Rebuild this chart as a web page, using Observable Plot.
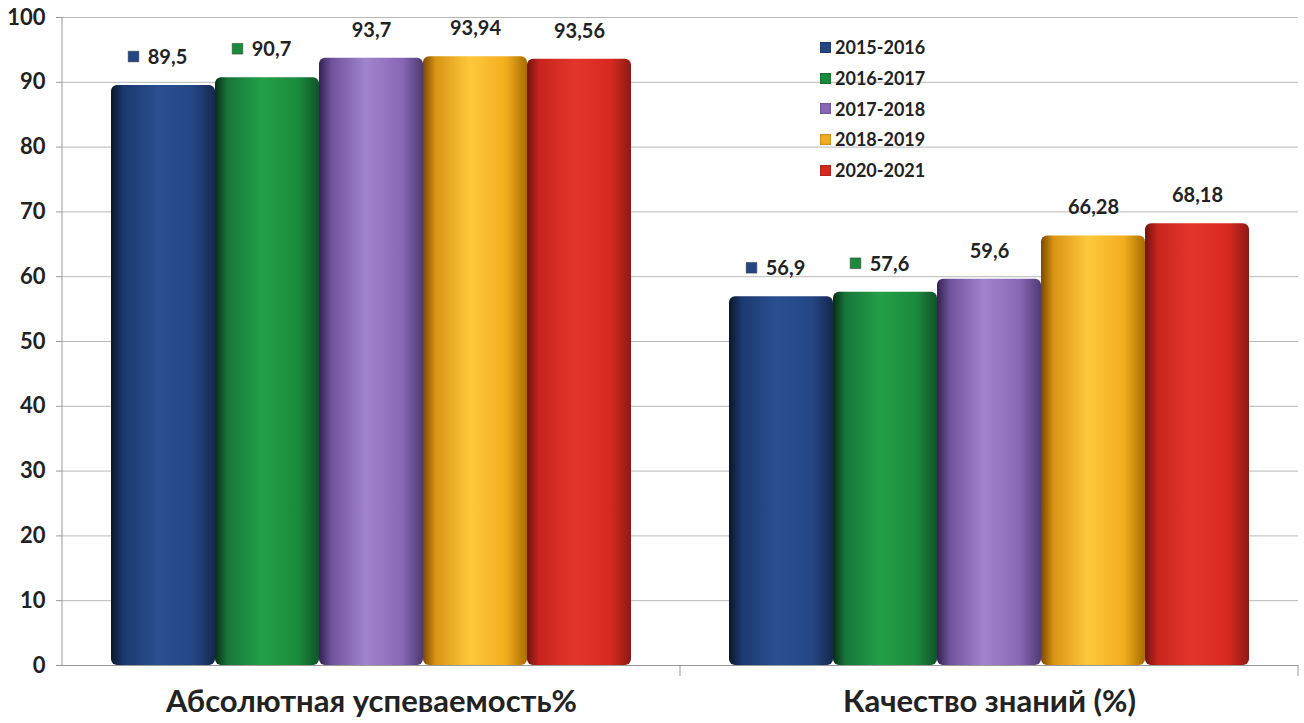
<!DOCTYPE html>
<html><head><meta charset="utf-8">
<script src="https://cdn.jsdelivr.net/npm/d3@7"></script>
<script src="https://cdn.jsdelivr.net/npm/@observablehq/plot@0.6"></script>
<style>
body{margin:0;background:#fff;font-family:Lato,"Open Sans",sans-serif;}
#wrap{position:relative;width:1304px;height:723px;overflow:hidden}
#legend{position:absolute;left:820px;top:32px;font:bold 18px Lato,"Open Sans",sans-serif;color:#222}
.row{display:flex;align-items:center;height:30.7px}
.sw{width:11px;height:11px;margin-right:4px;box-shadow:inset 0 0 2px rgba(0,0,0,.5)}
#chart svg{font-family:Lato,"Open Sans",sans-serif;}
[aria-label="y-axis tick label"] text{font-size:22px;font-weight:bold;fill:#222}
[aria-label="fx-axis tick label"] text{font-size:31px;font-weight:bold;fill:#222}
</style></head><body><div id="wrap"><div id="chart"></div><div id="legend"></div></div>
<script>
const categories = ["Абсолютная успеваемость%", "Качество знаний (%)"];
const series = ["2015-2016", "2016-2017", "2017-2018", "2018-2019", "2020-2021"];
const absoluteValues = [89.5, 90.7, 93.7, 93.94, 93.56];
const qualityValues = [56.9, 57.6, 59.6, 66.28, 68.18];
const valueLabels = [["89,5", "90,7", "93,7", "93,94", "93,56"], ["56,9", "57,6", "59,6", "66,28", "68,18"]];
const yTicks = [0, 10, 20, 30, 40, 50, 60, 70, 80, 90, 100];
const colors = ["#244684", "#1b8a3c", "#8867b6", "#f2ad1e", "#d8291f"];
const gradStops = [
  ["#0d1628", "#1c3870", "#2a4f90", "#244684", "#16284c"],
  ["#0a2c16", "#17763a", "#22a048", "#1b8a3c", "#10522a"],
  ["#33214f", "#6f529a", "#a084cc", "#8867b6", "#4f3a74"],
  ["#7a4a00", "#d99314", "#ffc83c", "#f2ad1e", "#a86c00"],
  ["#701410", "#c7241c", "#e3362b", "#d8291f", "#8e1a14"]
];

const data = [];
categories.forEach((c, ci) => {
  const vals = ci === 0 ? absoluteValues : qualityValues;
  series.forEach((s, si) => data.push({cat: c, series: s, si, value: vals[si], label: valueLabels[ci][si], color: colors[si]}));
});

const W = 1304, H = 723, mT = 17, mB = 58, mL = 62, mR = 6;
const chart = Plot.plot({
  width: W, height: H,
  marginTop: mT, marginBottom: mB, marginLeft: mL, marginRight: mR,
  fx: {domain: categories, padding: 0, label: null},
  x: {domain: series, paddingInner: 0, paddingOuter: 0.47, axis: null},
  y: {domain: [0, 100], label: null},
  color: {domain: series, range: series.map((s, i) => `url(#cyl${i})`)},
  marks: [
    Plot.gridY(yTicks, {stroke: "#b8b8b8", strokeOpacity: 1, strokeWidth: 1}),
    Plot.axisY(yTicks, {tickSize: 6, tickPadding: 11, stroke: "#999", label: null}),
    Plot.axisFx({anchor: "bottom", tickSize: 0, tickPadding: 24, label: null}),
    Plot.barY(data, {fx: "cat", x: "series", y: "value", fill: "series", rx: 6, inset: 0}),
    Plot.ruleY([0], {stroke: "#999"}),
    Plot.dot(data.filter(d => d.si < 2), {fx: "cat", x: "series", y: "value", symbol: "square", r: 6, fill: "color", stroke: "#333", strokeWidth: 0.5, dx: -30, dy: -29}),
    Plot.text(data.filter(d => d.si < 2), {fx: "cat", x: "series", y: "value", text: "label", dx: 4, dy: -28, fontSize: 20, fontWeight: "bold", fill: "#222"}),
    Plot.text(data.filter(d => d.si >= 2), {fx: "cat", x: "series", y: "value", text: "label", dy: -28, fontSize: 20, fontWeight: "bold", fill: "#222"})
  ]
});

const svg = d3.select(chart);
const defs = svg.insert("defs", ":first-child");
gradStops.forEach((st, i) => {
  const g = defs.append("linearGradient").attr("id", `cyl${i}`).attr("x1", 0).attr("x2", 1).attr("y1", 0).attr("y2", 0);
  [[0, st[0]], [0.12, st[1]], [0.45, st[2]], [0.8, st[3]], [1, st[4]]].forEach(([o, c]) =>
    g.append("stop").attr("offset", o).attr("stop-color", c));
});
// left axis line and category boundary ticks
svg.append("line").attr("x1", mL).attr("x2", mL).attr("y1", mT).attr("y2", H - mB).attr("stroke", "#999");
const fx = chart.scale("fx");
const bounds = categories.map(c => fx.apply(c) + fx.bandwidth);
bounds.forEach(b => svg.append("line").attr("x1", b).attr("x2", b).attr("y1", H - mB).attr("y2", H - mB + 11).attr("stroke", "#999"));
document.getElementById("chart").appendChild(chart);

const legend = document.getElementById("legend");
series.forEach((s, i) => {
  const row = document.createElement("div"); row.className = "row";
  row.innerHTML = `<span class="sw" style="background:${colors[i]}"></span><span>${s}</span>`;
  legend.appendChild(row);
});
</script></body></html>
